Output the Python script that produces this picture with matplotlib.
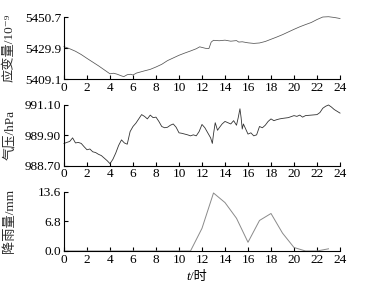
import numpy as np
import matplotlib
matplotlib.use("Agg")
import matplotlib.pyplot as plt

plt.rcParams['font.family'] = ['Liberation Serif', 'DejaVu Serif', 'Noto Sans CJK SC']
plt.rcParams['font.size'] = 9

# strain (10^-9)
t_strain = [0, 0.5, 1, 1.5, 2, 2.5, 3, 3.5, 4, 4.3, 4.6, 5, 5.2, 5.5, 5.8, 6, 6.3,
            7, 7.5, 8, 8.5, 9, 9.5, 10, 10.5, 11, 11.5, 11.8, 12, 12.3, 12.6, 12.8,
            13, 13.5, 14, 14.5, 15, 15.2, 15.5, 16, 16.5, 17, 17.5, 18, 18.5, 19,
            19.5, 20, 20.5, 21, 21.5, 22, 22.5, 23, 23.5, 24]
strain = [5430.9, 5429.5, 5427.8, 5425.6, 5423.0, 5420.5, 5418.0, 5415.3, 5412.6,
          5413.0, 5412.4, 5411.2, 5410.7, 5412.0, 5412.3, 5411.8, 5413.1,
          5414.6, 5415.6, 5417.2, 5419.0, 5421.5, 5423.3, 5425.1, 5426.6, 5428.0,
          5429.5, 5430.8, 5430.4, 5429.8, 5429.6, 5434.0,
          5435.2, 5434.9, 5435.3, 5434.6, 5435.0, 5434.0, 5434.2, 5433.5, 5433.1,
          5433.4, 5434.4, 5435.9, 5437.4, 5439.0,
          5440.8, 5442.6, 5444.3, 5445.8, 5447.2, 5449.2, 5450.9, 5451.1, 5450.6, 5449.9]

# air pressure (hPa)
t_press = [0, 0.25, 0.5, 0.75, 1, 1.25, 1.5, 1.75, 2, 2.25, 2.5, 2.75, 3, 3.25, 3.5,
           3.75, 4, 4.25, 4.5, 4.75, 5, 5.25, 5.5, 5.75, 6, 6.25, 6.5, 6.75, 7, 7.25,
           7.5, 7.75, 8, 8.25, 8.5, 8.75, 9, 9.25, 9.5, 9.75, 10, 10.25, 10.5, 10.75,
           11, 11.25, 11.5, 11.75, 12, 12.25, 12.5, 12.75, 12.9, 13, 13.15, 13.35,
           13.5, 13.75, 14, 14.25, 14.5, 14.75, 15, 15.15, 15.3, 15.4, 15.5, 15.6,
           15.75, 16, 16.25, 16.5, 16.75, 17, 17.25, 17.5, 17.75, 18, 18.25, 18.5,
           18.75, 19, 19.5, 20, 20.25, 20.5, 20.75, 21, 21.5, 22, 22.25, 22.5, 22.75,
           23, 23.25, 23.5, 23.75, 24]
press = [989.58, 989.62, 989.66, 989.80, 989.60, 989.62, 989.58, 989.45, 989.33,
         989.36, 989.25, 989.22, 989.15, 989.10, 989.00, 988.90, 988.78, 988.95,
         989.20, 989.50, 989.72, 989.60, 989.55, 990.05, 990.25, 990.38, 990.55,
         990.72, 990.65, 990.55, 990.70, 990.60, 990.62, 990.45, 990.25, 990.20,
         990.22, 990.30, 990.35, 990.22, 990.00, 989.98, 989.95, 989.92, 989.88,
         989.92, 989.88, 990.05, 990.33, 990.20, 990.00, 989.80, 989.58, 989.95,
         990.40, 990.10, 990.20, 990.35, 990.45, 990.40, 990.35, 990.48, 990.30,
         990.60, 990.95, 990.60, 990.15, 990.35, 990.20, 989.95, 990.00, 989.88,
         989.92, 990.25, 990.20, 990.30, 990.45, 990.55, 990.48, 990.52, 990.55,
         990.57, 990.60, 990.68, 990.65, 990.70, 990.62, 990.68, 990.70, 990.72,
         990.80, 990.97, 991.05, 991.10, 991.02, 990.92, 990.85, 990.78]

# rainfall (mm), hourly
t_rain = list(range(24))
rain = [0, 0, 0, 0, 0, 0, 0, 0, 0, 0, 0, 0,
        5.2, 13.3, 11.1, 7.5, 2.0, 7.0, 8.6, 4.1, 0.8, 0, 0, 0.5]

xticks = list(range(0, 25, 2))
yticks_strain = [5409.1, 5429.9, 5450.7]
yticks_press = [988.70, 989.90, 991.10]
yticks_rain = [0.0, 6.8, 13.6]

fig = plt.figure(figsize=(3.72, 2.91), dpi=100)
ax1 = fig.add_axes([0.172, 0.7285, 0.742, 0.212])
ax2 = fig.add_axes([0.172, 0.4306, 0.742, 0.2086])
ax3 = fig.add_axes([0.172, 0.1375, 0.742, 0.2038])

ax1.plot(t_strain, strain, color='#555555', lw=0.55, clip_on=False)
ax2.plot(t_press, press, color='#333333', lw=0.6, clip_on=False)
ax3.plot(t_rain, rain, color='#8a8a8a', lw=0.7, clip_on=False)

panels = [
    (ax1, yticks_strain, ['5409.1', '5429.9', '5450.7'], '应变量/10⁻⁹'),
    (ax2, yticks_press, ['988.70', '989.90', '991.10'], '气压/hPa'),
    (ax3, yticks_rain, ['0.0', '6.8', '13.6'], '降雨量/mm'),
]
for ax, yt, ylab, label in panels:
    ax.set_xlim(0, 24)
    ax.set_ylim(yt[0], yt[-1])
    ax.set_xticks(xticks)
    ax.set_yticks(yt)
    ax.set_yticklabels(ylab)
    ax.spines['top'].set_visible(False)
    ax.spines['right'].set_visible(False)
    for s in ['left', 'bottom']:
        ax.spines[s].set_linewidth(0.8)
    ax.tick_params(direction='in', length=3, width=0.8, labelsize=9.5, pad=2)
    ax.set_ylabel(label, fontsize=9.5, color='#2a2a2a')
    ax.yaxis.set_label_coords(-0.175, 0.5)

# x label "t/时" with italic t
ax3.text(0.458, -0.44, 't', transform=ax3.transAxes, fontsize=9.5,
         style='italic', ha='right', va='center')
ax3.text(0.458, -0.44, '/时', transform=ax3.transAxes, fontsize=9.5,
         ha='left', va='center')

fig.savefig('out.png', dpi=100)
